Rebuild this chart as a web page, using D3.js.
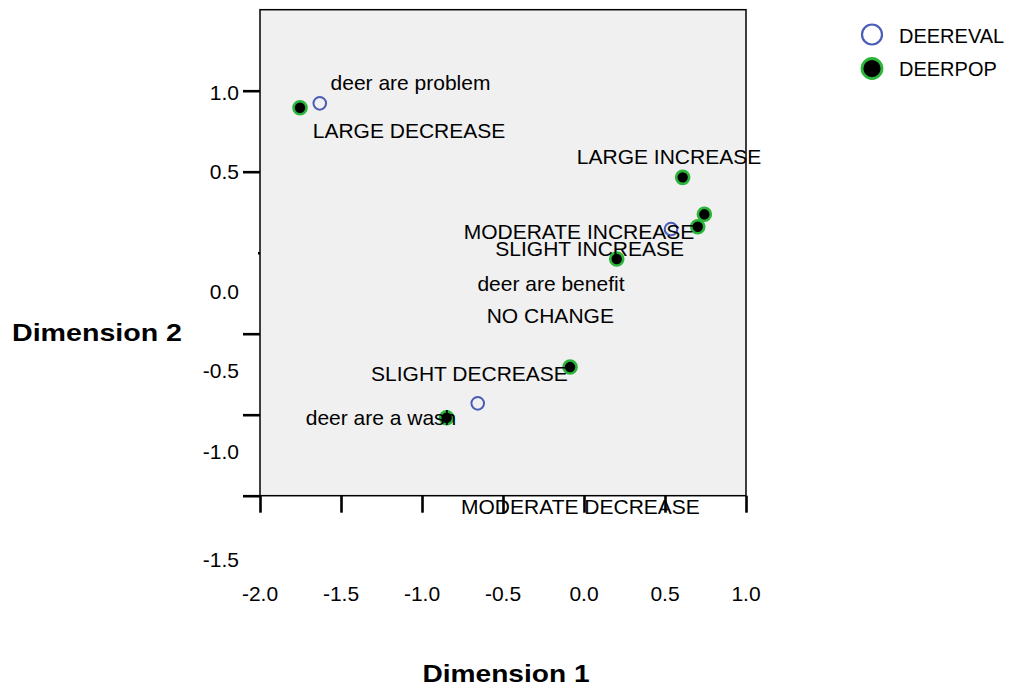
<!DOCTYPE html>
<html>
<head>
<meta charset="utf-8">
<script src="https://cdn.jsdelivr.net/npm/d3@7"></script>
<style>
  html, body { margin: 0; padding: 0; background: #fff; }
  svg { display: block; }
  text { font-family: "Liberation Sans", Arial, sans-serif; fill: #000; }
</style>
</head>
<body>
<svg id="chart" width="1011" height="688"></svg>
<script>
// Joint category plot: DEEREVAL and DEERPOP category quantifications
const evalCategories = ["deer are problem", "deer are benefit", "deer are a wash"];
const evalDim1 = [-1.631, 0.537, -0.656];
const evalDim2 = [0.922, 0.146, -0.930];

const popCategories = ["LARGE DECREASE", "MODERATE DECREASE", "SLIGHT DECREASE", "NO CHANGE",
                       "SLIGHT INCREASE", "MODERATE INCREASE", "LARGE INCREASE"];
const popDim1 = [-1.753, -0.848, -0.086, 0.202, 0.702, 0.743, 0.609];
const popDim2 = [0.895, -1.019, -0.706, -0.039, 0.160, 0.237, 0.465];

const xTicks = [-2.0, -1.5, -1.0, -0.5, 0.0, 0.5, 1.0];
const yTicks = [1.0, 0.5, 0.0, -0.5, -1.0, -1.5];
const xTickLabels = ["-2.0", "-1.5", "-1.0", "-0.5", "0.0", "0.5", "1.0"];
const yTickLabels = ["1.0", "0.5", "0.0", "-0.5", "-1.0", "-1.5"];

// ---- layout ----
// label anchors (in plot units) where each category name is centred
const evalLabelAt = [[-1.071, 1.004], [-0.204, -0.235], [-1.253, -1.064]];
const popLabelAt = [[-1.080, 0.708], [-0.022, -1.613], [-0.707, -0.789], [-0.208, -0.437],
                    [0.035, -0.023], [-0.031, 0.085], [0.525, 0.548]];
// vertical drop of each y tick label below its tick, px
const yLabelDrop = [9.3, 7.3, 46, 44.3, 44.7, 71];

const BLUE = "#4a5cb6";
const GREEN = "#2bb53b";

const svg = d3.select("#chart");
const x = d3.scaleLinear().domain([-2, 1]).range([260, 746]);
const y = d3.scaleLinear().domain([-1.5, 1.5]).range([495.7, 9.7]);

// plot background
svg.append("rect")
  .attr("x", x(-2)).attr("y", y(1.5))
  .attr("width", x(1) - x(-2)).attr("height", y(-1.5) - y(1.5))
  .attr("fill", "#f0f0f0");

// DEEREVAL points (open circles)
svg.append("g").selectAll("circle")
  .data(evalCategories.map((c, i) => ({ c, d1: evalDim1[i], d2: evalDim2[i] })))
  .join("circle")
  .attr("cx", d => x(d.d1)).attr("cy", d => y(d.d2))
  .attr("r", 6.3)
  .attr("fill", "none").attr("stroke", BLUE).attr("stroke-width", 2);

// DEERPOP points (filled black, green rim)
svg.append("g").selectAll("circle")
  .data(popCategories.map((c, i) => ({ c, d1: popDim1[i], d2: popDim2[i] })))
  .join("circle")
  .attr("cx", d => x(d.d1)).attr("cy", d => y(d.d2))
  .attr("r", 6.5)
  .attr("fill", "#000").attr("stroke", GREEN).attr("stroke-width", 2.6);

// category labels
const labels = svg.append("g").attr("font-size", 21).attr("text-anchor", "middle");
labels.selectAll("text.eval")
  .data(evalCategories)
  .join("text").attr("class", "eval")
  .attr("x", (d, i) => x(evalLabelAt[i][0]))
  .attr("y", (d, i) => y(evalLabelAt[i][1]))
  .text(d => d);
labels.selectAll("text.pop")
  .data(popCategories)
  .join("text").attr("class", "pop")
  .attr("x", (d, i) => x(popLabelAt[i][0]))
  .attr("y", (d, i) => y(popLabelAt[i][1]))
  .text(d => d);

// frame
svg.append("rect")
  .attr("x", x(-2)).attr("y", y(1.5))
  .attr("width", x(1) - x(-2)).attr("height", y(-1.5) - y(1.5))
  .attr("fill", "none").attr("stroke", "#000").attr("stroke-width", 1.5);

// left axis ticks
const yAxis = svg.append("g")
  .attr("transform", `translate(${x(-2)},0)`)
  .call(d3.axisLeft(y).tickValues(yTicks).tickSize(17).tickFormat(""));
yAxis.select(".domain").remove();
yAxis.selectAll(".tick line").attr("stroke", "#000").attr("stroke-width", 2.6)
  .filter(d => d === 0).attr("x2", -2);

// bottom axis ticks
const xAxis = svg.append("g")
  .attr("transform", `translate(0,${y(-1.5)})`)
  .call(d3.axisBottom(x).tickValues(xTicks).tickSize(17).tickFormat(""));
xAxis.select(".domain").remove();
xAxis.selectAll(".tick line").attr("stroke", "#000").attr("stroke-width", 2.6);

// tick labels
svg.append("g").attr("font-size", 21).attr("text-anchor", "middle")
  .selectAll("text").data(xTicks).join("text")
  .attr("x", d => x(d)).attr("y", 600.5)
  .text((d, i) => xTickLabels[i]);
svg.append("g").attr("font-size", 21).attr("text-anchor", "end")
  .selectAll("text").data(yTicks).join("text")
  .attr("x", 239).attr("y", (d, i) => y(d) + yLabelDrop[i])
  .text((d, i) => yTickLabels[i]);

// axis titles
svg.append("text").attr("x", 506).attr("y", 681.5)
  .attr("text-anchor", "middle").attr("font-size", 24).attr("font-weight", "bold")
  .attr("textLength", 167).attr("lengthAdjust", "spacingAndGlyphs")
  .text("Dimension 1");
svg.append("text").attr("x", 97).attr("y", 340.5)
  .attr("text-anchor", "middle").attr("font-size", 24).attr("font-weight", "bold")
  .attr("textLength", 170).attr("lengthAdjust", "spacingAndGlyphs")
  .text("Dimension 2");

// legend
const legend = svg.append("g").attr("font-size", 20);
legend.append("circle").attr("cx", 872).attr("cy", 34.5).attr("r", 10)
  .attr("fill", "none").attr("stroke", BLUE).attr("stroke-width", 2.2);
legend.append("text").attr("x", 899).attr("y", 42.5).text("DEEREVAL");
legend.append("circle").attr("cx", 872).attr("cy", 68.5).attr("r", 10)
  .attr("fill", "#000").attr("stroke", GREEN).attr("stroke-width", 2.8);
legend.append("text").attr("x", 899).attr("y", 75.5).text("DEERPOP");
</script>
</body>
</html>
